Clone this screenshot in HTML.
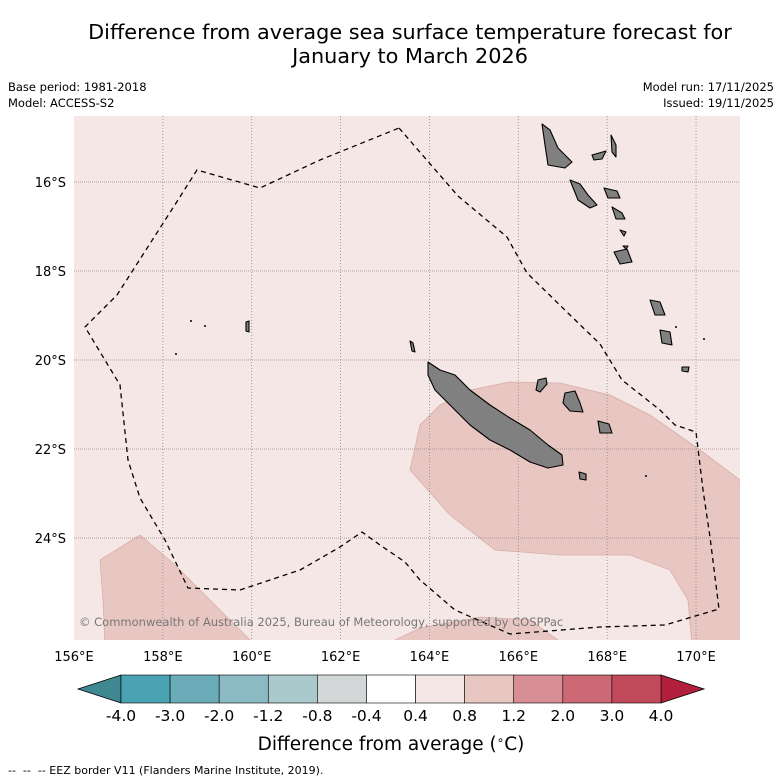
<!DOCTYPE html>
<html><head><meta charset="utf-8"><style>
body{margin:0;background:#fff;font-family:"DejaVu Sans","Liberation Sans",sans-serif}
#c{position:relative;width:781px;height:781px;overflow:hidden}
svg text{font-family:"DejaVu Sans","Liberation Sans",sans-serif}
</style></head><body>
<div id="c">
<svg width="781" height="781" xmlns="http://www.w3.org/2000/svg">
<text x="410" y="39" font-size="20.8" text-anchor="middle" fill="#000">Difference from average sea surface temperature forecast for</text>
<text x="410" y="63" font-size="20.8" text-anchor="middle" fill="#000">January to March 2026</text>
<text x="8" y="91" font-size="11.5">Base period: 1981-2018</text>
<text x="8" y="107" font-size="11.5">Model: ACCESS-S2</text>
<text x="774" y="91" font-size="11.5" text-anchor="end">Model run: 17/11/2025</text>
<text x="774" y="107" font-size="11.5" text-anchor="end">Issued: 19/11/2025</text>
<defs><clipPath id="mc"><rect x="74" y="116" width="666" height="524"/></clipPath></defs>
<g clip-path="url(#mc)" id="map">
<rect x="74" y="116" width="666" height="524" fill="#f5e7e6"/>
<g id="anom"></g>
<g id="grid"></g>
<g id="land"></g>
<path id="eez" fill="none" stroke="#000" stroke-width="1.3" stroke-dasharray="5,4"/>
<text x="79" y="626" font-size="11.5" fill="#777">© Commonwealth of Australia 2025, Bureau of Meteorology, supported by COSPPac</text>
</g>
<g id="ticks"></g>
<g id="cbar"></g>
<text x="391" y="750" font-size="18.5" text-anchor="middle">Difference from average (<tspan font-size="12" dy="-6">∘</tspan><tspan dy="6">C)</tspan></text>
<text x="8" y="774" font-size="11" xml:space="preserve">--  --  -- EEZ border V11 (Flanders Marine Institute, 2019).</text>
</svg>
</div>
<script>
const NS="http://www.w3.org/2000/svg";
const lonTicks=[158,160,162,164,166,168,170];
const latTicks=[16,18,20,22,24];
const cbLabels=["-4.0","-3.0","-2.0","-1.2","-0.8","-0.4","0.4","0.8","1.2","2.0","3.0","4.0"];
const cbColors=["#4aa3b2","#6aacb8","#8cbac4","#a9c9cc","#d3d7d7","#ffffff","#f5e7e6","#e8c6c2","#d78f95","#cc6974","#c14a5a"];
const lonAll=[156,158,160,162,164,166,168,170];
function X(lon){return 74+(lon-156)*44.43;}
function Y(lat){return 182+(lat-16)*44.5;}
function el(t,a,p){const e=document.createElementNS(NS,t);for(const k in a)e.setAttribute(k,a[k]);p.appendChild(e);return e;}
function pts(a){return a.map(p=>p.join(",")).join(" ");}
const anomRegions=[
[[410,470],[420,425],[440,405],[470,390],[510,382],[560,383],[610,395],[650,415],[700,450],[740,480],[745,645],[692,645],[688,600],[670,570],[630,555],[560,555],[495,550],[450,515]],
[[100,560],[140,535],[175,565],[210,600],[255,645],[105,645],[103,600]],
[[385,645],[420,628],[480,617],[530,620],[565,645]]];
const anom=document.getElementById('anom');
anomRegions.forEach(r=>{const p=el('polygon',{points:pts(r),fill:'#e8c6c2',stroke:'#d9aea9','stroke-width':0.8},anom);

});
const grid=document.getElementById('grid');
lonTicks.forEach(l=>{const g=el('line',{x1:X(l),x2:X(l),y1:116,y2:640,stroke:'#888','stroke-width':0.8,'stroke-dasharray':'1,2'},grid);

});
latTicks.forEach(l=>{const g=el('line',{x1:74,x2:740,y1:Y(l),y2:Y(l),stroke:'#a08888','stroke-width':0.8,'stroke-dasharray':'1,1'},grid);

});
const islands=[
[[428,362],[440,370],[455,375],[470,390],[490,405],[510,418],[530,430],[548,445],[562,455],[563,465],[548,468],[530,462],[510,450],[490,440],[470,425],[450,405],[435,390],[428,375]],
[[565,393],[575,391],[580,403],[583,412],[570,411],[563,403]],
[[598,421],[609,424],[612,433],[600,433]],
[[538,380],[546,378],[547,384],[540,392],[536,390]],
[[579,472],[586,474],[586,480],[580,479]],
[[542,124],[550,130],[558,148],[572,162],[565,168],[548,165],[545,145]],
[[570,180],[580,184],[588,195],[597,205],[590,208],[578,200]],
[[604,188],[617,191],[620,198],[608,198]],
[[592,155],[606,151],[602,159],[594,160]],
[[611,135],[616,145],[616,157],[612,152]],
[[612,207],[622,213],[625,219],[616,219]],
[[614,252],[627,249],[632,262],[620,264]],
[[650,300],[660,302],[665,315],[655,315]],
[[660,330],[670,332],[672,345],[662,343]],
[[682,367],[689,367],[688,372],[682,371]],
[[246,322],[249,321],[249,332],[246,331]],
[[410,341],[413,343],[415,352],[412,351]],
[[620,230],[626,232],[624,236]],[[623,246],[628,246],[626,249]]];
const land=document.getElementById('land');
islands.forEach(r=>{const p=el('polygon',{points:pts(r),fill:'#808080',stroke:'#000','stroke-width':1.1,'stroke-linejoin':'round'},land);

});
[[191,321],[205,326],[176,354],[676,327],[704,339],[646,476]].forEach(d=>{const c=el('circle',{cx:d[0],cy:d[1],r:1,fill:'#000'},land);

});
const eezPts=[[399,128],[458,196],[507,237],[527,273],[570,315],[600,344],[622,380],[660,410],[675,425],[696,432],[703,490],[710,537],[719,609],[665,625],[600,627],[510,634],[455,610],[420,580],[405,562],[380,545],[362,532],[340,547],[300,570],[240,590],[188,588],[165,540],[140,498],[128,460],[120,385],[85,327],[117,295],[178,200],[197,170],[260,188],[320,160],[399,128]];
document.getElementById('eez').setAttribute('d','M'+eezPts.map(p=>p.join(',')).join(' L'));
const ticks=document.getElementById('ticks');
lonAll.forEach(l=>{const t=el('text',{x:X(l),y:661,'font-size':13,'text-anchor':'middle'},ticks);t.textContent=l+'°E';

});
latTicks.forEach(l=>{const t=el('text',{x:66,y:Y(l)+5,'font-size':13,'text-anchor':'end'},ticks);t.textContent=l+'°S';

});
const cb=document.getElementById('cbar');
const cx0=121,cx1=661,cy0=675,cy1=703,bw=(cx1-cx0)/cbColors.length;
const lt=el('polygon',{points:`78,689 ${cx0},${cy0} ${cx0},${cy1}`,fill:'#3f8791',stroke:'#000','stroke-width':0.8},cb);


const rt=el('polygon',{points:`704,689 ${cx1},${cy0} ${cx1},${cy1}`,fill:'#b11f3c',stroke:'#000','stroke-width':0.8},cb);


cbColors.forEach((c,i)=>{const r=el('rect',{x:cx0+i*bw,y:cy0,width:bw,height:cy1-cy0,fill:c,stroke:'#000','stroke-width':0.6},cb);

});
cbLabels.forEach((s,i)=>{const t=el('text',{x:cx0+i*bw,y:721,'font-size':15.5,'text-anchor':'middle'},cb);t.textContent=s;

});
</script>
</body></html>
